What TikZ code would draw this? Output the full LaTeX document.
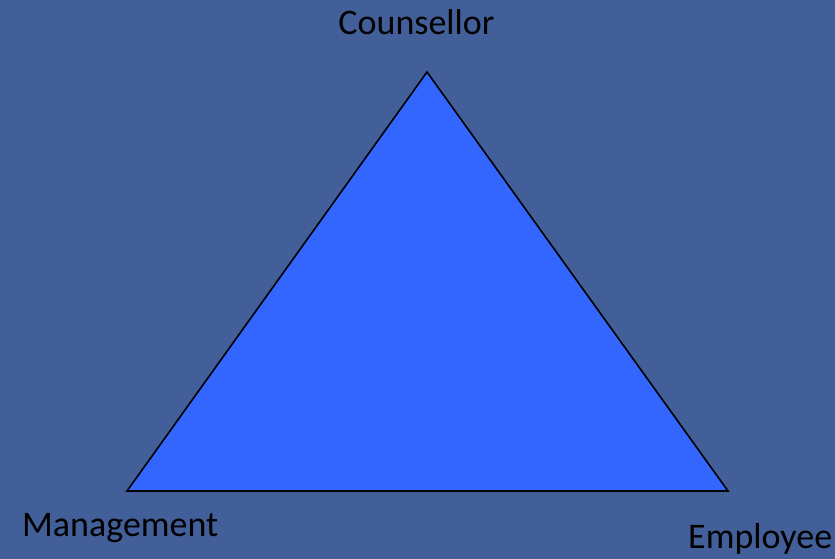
\documentclass[tikz,border=0pt]{standalone}
\usepackage{fontspec}
\setmainfont{Carlito}
\usetikzlibrary{positioning}
\definecolor{bgblue}{RGB}{66,95,153}
\definecolor{triblue}{RGB}{51,102,255}

\begin{document}
\begin{tikzpicture}[x=1pt,y=1pt,
                    every node/.style={inner sep=0pt,font=\fontsize{36}{42}\selectfont}]
  \tikzstyle{role}=[anchor=base west,text=black]

  \fill[bgblue] (0,0) rectangle (835,559);
  \useasboundingbox (0,0) rectangle (835,559);

  \coordinate (top) at (427,487);
  \coordinate (left) at (127,68);
  \coordinate (right) at (728,68);

  \draw[fill=triblue,draw=black,line width=1.6pt,line join=miter] (top) -- (left) -- (right) -- cycle;

  \node[role,anchor=base] (counsellor) at (416.5,524) {Counsellor};
  \node[role] (management) at (22,22) {Management};
  \node[role] (employee) at (688,10) {Employee};
\end{tikzpicture}
\end{document}
